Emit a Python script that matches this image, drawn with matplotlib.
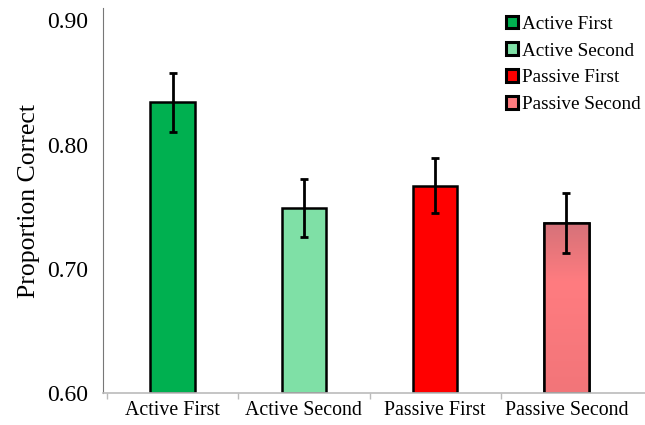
"""
Proportion correct by condition, bar chart with error bars.
"""

import matplotlib.pyplot as plt
import numpy as np
from matplotlib.colors import LinearSegmentedColormap

plt.rcParams["font.family"] = ["Liberation Serif", "DejaVu Serif"]

# ==========================================================
# Data
# ==========================================================

conditions = ["Active First", "Active Second", "Passive First", "Passive Second"]
means = [0.834, 0.749, 0.767, 0.737]
errors = [0.024, 0.023, 0.022, 0.024]
colors = ["#00b050", "#7fe0a6", "#ff0000", "#ff7c80"]

# ==========================================================
# Figure
# ==========================================================

fig = plt.figure(figsize=(6.45, 4.25), dpi=100)
ax = fig.add_axes([0.160, 0.075, 0.840, 0.906])

x = np.arange(len(conditions))
bar_width = 0.34

bars = []
for i in range(len(conditions)):
    b = ax.bar(
        x[i],
        means[i] - 0.60,
        bottom=0.60,
        width=bar_width,
        color=colors[i],
        edgecolor="black",
        linewidth=1.8,
        zorder=2,
    )
    bars.append(b[0])

# shaded fill on the last bar (darker at the top)
shade = LinearSegmentedColormap.from_list(
    "shade",
    [(0.0, "#f27579"), (0.65, "#ff7c80"), (0.85, "#e7767b"), (1.0, "#d5727a")],
)
grad = np.linspace(0, 1, 256).reshape(-1, 1)
last = bars[-1]
img = ax.imshow(
    grad,
    cmap=shade,
    origin="lower",
    aspect="auto",
    extent=(
        last.get_x(),
        last.get_x() + last.get_width(),
        0.60,
        means[-1],
    ),
    zorder=2.1,
)
img.set_clip_path(last)
ax.bar(
    x[-1],
    means[-1] - 0.60,
    bottom=0.60,
    width=bar_width,
    fill=False,
    edgecolor="black",
    linewidth=1.8,
    zorder=2.2,
)

ax.errorbar(
    x,
    means,
    yerr=errors,
    fmt="none",
    ecolor="black",
    elinewidth=2,
    capsize=3,
    capthick=2,
    zorder=3,
)

ax.set_ylim(0.60, 0.91)
ax.set_xlim(-0.53, 3.6)

ax.set_yticks([0.60, 0.70, 0.80, 0.90])
ax.set_yticklabels(["0.60", "0.70", "0.80", "0.90"])
ax.tick_params(axis="y", length=0, pad=11, labelsize=17)

ax.set_xticks(x)
ax.set_xticklabels(conditions)
ax.tick_params(axis="x", which="major", length=0, pad=6, labelsize=14.3)
ax.set_xticks(np.arange(-0.5, 3.0, 1.0), minor=True)
ax.tick_params(axis="x", which="minor", length=4, color="#bbbbbb", width=1)

ax.set_ylabel("Proportion Correct", fontsize=18.5, labelpad=5)

ax.spines["top"].set_visible(False)
ax.spines["right"].set_visible(False)
ax.spines["left"].set_color("#777777")
ax.spines["bottom"].set_color("#bbbbbb")
ax.spines["bottom"].set_linewidth(1.2)

leg = ax.legend(
    bars,
    conditions,
    loc="upper right",
    bbox_to_anchor=(1.024, 1.025),
    frameon=False,
    fontsize=13.8,
    handlelength=0.65,
    handleheight=0.65,
    handletextpad=0.2,
    labelspacing=0.5,
)
for h in leg.legend_handles:
    h.set_linewidth(2.2)

fig.savefig("out.png", dpi=100)
plt.close()
